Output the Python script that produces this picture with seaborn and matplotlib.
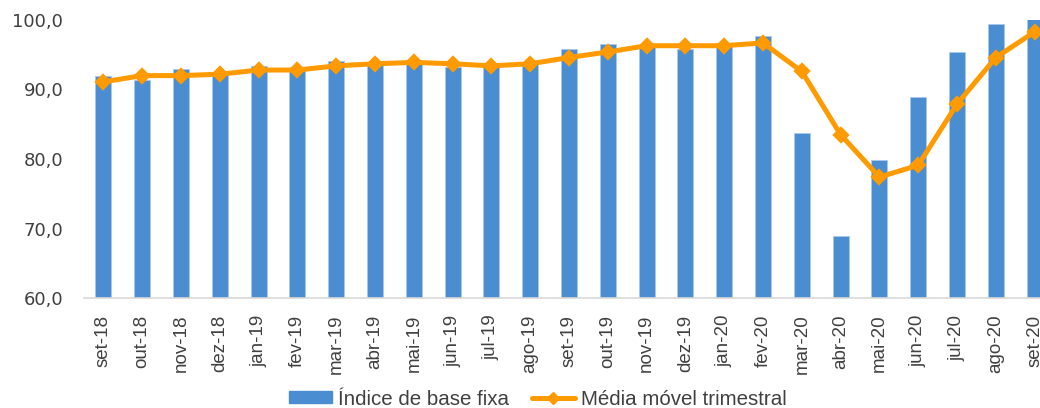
import matplotlib
matplotlib.use("Agg")
import matplotlib.pyplot as plt
import seaborn as sns
import pandas as pd
from matplotlib.lines import Line2D
from matplotlib.patches import Patch

categories = ["set-18", "out-18", "nov-18", "dez-18", "jan-19", "fev-19", "mar-19",
              "abr-19", "mai-19", "jun-19", "jul-19", "ago-19", "set-19", "out-19",
              "nov-19", "dez-19", "jan-20", "fev-20", "mar-20", "abr-20", "mai-20",
              "jun-20", "jul-20", "ago-20", "set-20"]
indice_base_fixa = [92.0, 91.3, 93.0, 92.4, 93.4, 92.9, 94.1, 93.8, 94.0, 93.2, 93.5, 93.7,
                    95.8, 96.6, 96.4, 95.8, 96.7, 97.7, 83.8, 68.9, 79.8, 88.9, 95.4, 99.4,
                    100.2]
media_movel = [91.1, 92.0, 92.0, 92.2, 92.8, 92.8, 93.4, 93.7, 93.9, 93.7, 93.4, 93.7,
               94.6, 95.4, 96.3, 96.3, 96.3, 96.7, 92.6, 83.5, 77.4, 79.1, 87.9, 94.6,
               98.3]
yticks = [60, 70, 80, 90, 100]
ytick_labels = ["60,0", "70,0", "80,0", "90,0", "100,0"]
bar_label = "Índice de base fixa"
line_label = "Média móvel trimestral"

bar_color = "#4A8DD0"
line_color = "#FF9A00"
text_color = "#404040"

sns.set_style("white")
plt.rcParams["font.family"] = ["Liberation Sans", "DejaVu Sans"]

df = pd.DataFrame({"mes": categories, "indice": indice_base_fixa, "media": media_movel})

fig = plt.figure(figsize=(10.40, 4.08), dpi=100)
W, H = 1040, 408
left, right, top, bottom = 84, 1054, 20, 298
ax = fig.add_axes([left / W, 1 - bottom / H, (right - left) / W, (bottom - top) / H])

sns.barplot(data=df, x="mes", y="indice", color=bar_color, width=0.41,
            saturation=1, ax=ax, edgecolor="#A9C8EA", linewidth=0.6)
sns.pointplot(data=df, x="mes", y="media", color=line_color, markers="D",
              linestyles="-", ax=ax, markersize=6.5, linewidth=3.6)

ax.set_ylim(60, 100)
ax.set_xlim(-0.5, len(categories) - 0.5)
ax.set_yticks(yticks)
ax.set_yticklabels(ytick_labels, fontsize=13, color=text_color, family="DejaVu Sans")
ax.set_xticks(range(len(categories)))
ax.set_xticklabels(categories, rotation=90, fontsize=13.5, color=text_color)
ax.tick_params(axis="x", length=0, pad=12)
ax.tick_params(axis="y", length=0, pad=15)
ax.set_xlabel("")
ax.set_ylabel("")
for s in ["top", "right", "left"]:
    ax.spines[s].set_visible(False)
ax.spines["bottom"].set_color("#D9D9D9")
ax.spines["bottom"].set_linewidth(1.2)
ax.grid(False)

handles = [Patch(facecolor=bar_color, edgecolor=bar_color),
           Line2D([0], [0], color=line_color, lw=3.6, marker="D", markersize=6)]
fig.legend(handles, [bar_label, line_label], loc="center", bbox_to_anchor=(0.517, 0.022),
           ncol=2, frameon=False, fontsize=14.8, labelcolor=text_color,
           handlelength=2.1, handleheight=0.55, columnspacing=1.1, handletextpad=0.3,
           borderpad=0.1)

fig.savefig("out.png", dpi=100)
